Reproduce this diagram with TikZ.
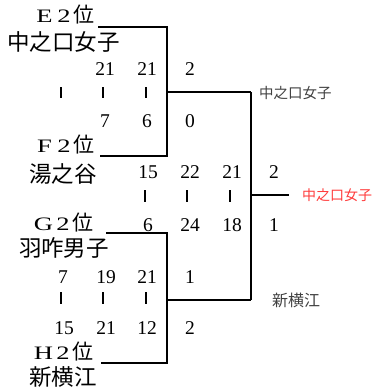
\documentclass[tikz,border=0pt]{standalone}
\usepackage{fontspec}
\usepackage{graphicx}
\setmainfont{Liberation Serif}
\newfontfamily\cjk{Noto Sans CJK JP}
\definecolor{lblgray}{HTML}{404040}
\definecolor{winred}{HTML}{FF3B3B}
\newcommand{\seedlbl}[1]{\makebox[19.5pt]{\scalebox{1.4}[1]{#1}}\makebox[19.5pt]{\scalebox{1.4}[1]{2}}\makebox[19.5pt]{{\cjk\fontsize{21}{21}\selectfont 位}}}
\begin{document}
\begin{tikzpicture}[x=1pt,y=-1pt,
  br/.style={line width=1.8pt},
  tickmark/.style={line width=1.6pt},
  num/.style={inner sep=0pt,font=\fontsize{19.5}{19.5}\selectfont},
  team/.style={inner sep=0pt,font=\cjk\fontsize{22.5}{22.5}\selectfont},
  seed/.style={inner sep=0pt,font=\fontsize{19}{19}\selectfont},
  small/.style={inner sep=0pt,anchor=west,font=\cjk\fontsize{14.5}{14.5}\selectfont}]
\useasboundingbox (0,0) rectangle (377,388);

% seeds and teams
\node[seed] (E) at (64,15) {\seedlbl{E}};
\node[team] (tE) at (63.5,42) {中之口女子};
\node[seed] (F) at (64,145) {\seedlbl{F}};
\node[team] (tF) at (63,174) {湯之谷};
\node[seed] (G) at (63,223) {\seedlbl{G}};
\node[team] (tG) at (64,248) {羽咋男子};
\node[seed] (H) at (63,352) {\seedlbl{H}};
\node[team] (tH) at (63,377) {新横江};

% bracket coordinates
\coordinate (e0) at (98,27);   \coordinate (e1) at (167,27);
\coordinate (f0) at (100,156); \coordinate (f1) at (167,156);
\coordinate (m1) at (167,92);  \coordinate (w1) at (251,92);
\coordinate (g0) at (106,233); \coordinate (g1) at (167,233);
\coordinate (h0) at (101,363); \coordinate (h1) at (167,363);
\coordinate (m2) at (167,300); \coordinate (w2) at (251,300);
\coordinate (fm) at (251,195); \coordinate (fe) at (289,195);

\draw[br] (e0) -- (e1) -- (f1) -- (f0);
\draw[br] (m1) -- (w1);
\draw[br] (g0) -- (g1) -- (h1) -- (h0);
\draw[br] (m2) -- (w2);
\draw[br] (w1) -- (w2);
\draw[br] (fm) -- (fe);

% winners
\node[small,text=lblgray] (r1) at (259,93) {中之口女子};
\node[small,text=lblgray,font=\cjk\fontsize{16}{16}\selectfont] (r2) at (272,300) {新横江};
\node[small,text=winred,font=\cjk\fontsize{14}{14}\selectfont] (champ) at (302,195) {中之口女子};

% match 1 scores
\node[num] (a1) at (105,69) {21};
\node[num] (a2) at (147,69) {21};
\node[num] (a3) at (190,69) {2};
\node[num] (b1) at (105,121) {7};
\node[num] (b2) at (147,121) {6};
\node[num] (b3) at (190,121) {0};
\draw[tickmark] (61,87) -- (61,98);
\draw[tickmark] (103,87) -- (103,98);
\draw[tickmark] (146,87) -- (146,98);

% final scores
\node[num] (c1) at (148,172) {15};
\node[num] (c2) at (190,172) {22};
\node[num] (c3) at (232,172) {21};
\node[num] (c4) at (274,172) {2};
\node[num] (d1) at (148,225) {6};
\node[num] (d2) at (190,225) {24};
\node[num] (d3) at (232,225) {18};
\node[num] (d4) at (274,225) {1};
\draw[tickmark] (145,190) -- (145,202);
\draw[tickmark] (187,190) -- (187,202);
\draw[tickmark] (230,190) -- (230,202);

% match 2 scores
\node[num] (p1) at (63,277) {7};
\node[num] (p2) at (106,277) {19};
\node[num] (p3) at (147,277) {21};
\node[num] (p4) at (190,277) {1};
\node[num] (q1) at (64,328) {15};
\node[num] (q2) at (106,328) {21};
\node[num] (q3) at (147,328) {12};
\node[num] (q4) at (190,328) {2};
\draw[tickmark] (61,292) -- (61,304);
\draw[tickmark] (103,292) -- (103,304);
\draw[tickmark] (146,292) -- (146,304);
\end{tikzpicture}
\end{document}
